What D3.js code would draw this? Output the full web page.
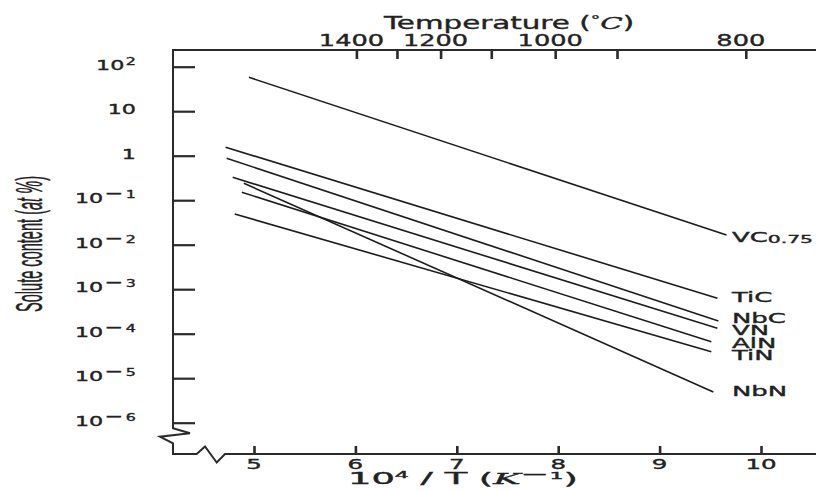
<!DOCTYPE html>
<html><head><meta charset="utf-8">
<script src="https://cdn.jsdelivr.net/npm/d3@7"></script>
<style>body{margin:0;background:#fff} svg{display:block} text{stroke:#222;stroke-width:0.35px}</style>
</head><body>
<svg id="chart" width="816" height="491"></svg>
<script>
// ---- data ----
const compounds = ["VC0.75", "TiC", "NbC", "VN", "AlN", "TiN", "NbN"];
const xStart = [4.95, 4.72, 4.73, 4.79, 4.88, 4.81, 4.90];      // 10^4/T (K^-1)
const yStart = [57.8, 1.55, 0.875, 0.327, 0.151, 0.049, 0.24];   // at %
const xEnd   = [9.66, 9.57, 9.58, 9.57, 9.51, 9.51, 9.53];
const yEnd   = [0.0165, 6.25e-4, 1.93e-4, 1.32e-4, 6.6e-5, 3.94e-5, 4.9e-6];
const xTicks = [5, 6, 7, 8, 9, 10];
const yTicks = [1e2, 1e1, 1, 1e-1, 1e-2, 1e-3, 1e-4, 1e-5, 1e-6];
const yTickBase = ["10", "10", "1", "10", "10", "10", "10", "10", "10"];
const yTickExp  = ["2", "", "", "−1", "−2", "−3", "−4", "−5", "−6"];
const tempLabels = ["1400", "", "1200", "", "1000", "", "800"];
const tempTickAt = [6.01, 6.41, 6.84, 7.34, 7.97, 8.58, 9.85]; // position on 10^4/T axis

// ---- layout ----
const svg = d3.select("#chart");
const x = d3.scaleLinear().domain([5, 10]).range([254, 761]);
const y = d3.scaleLog().domain([1e-6, 1e2]).range([422.7, 66.7]);
const frameL = 173, frameT = 50, frameB = 454, frameR = 816;
const axisColor = "#2b2b2b";
const labelDy = [6.5, 3.3, 2.3, 6.7, 6.6, 8.3, 4.5];

function stretch(sel, sx) {
  sel.attr("transform", function () {
    const ax = +this.getAttribute("x") || 0, ay = +this.getAttribute("y") || 0;
    return `translate(${ax},${ay}) scale(${sx},1) translate(${-ax},${-ay})`;
  });
}
function fitWidth(sel, w) {
  sel.each(function () {
    const bb = this.getBBox();
    stretch(d3.select(this), w / bb.width);
  });
}

// axis frame with break marks
svg.append("path")
  .attr("d", `M${frameR},${frameT}H${frameL}V428.3L190,433.3L160,436.7L${frameL},443.3V${frameB}` +
             `H196.7L205,446.5L216.7,462.5L225,${frameB}H${frameR}`)
  .attr("fill", "none").attr("stroke", axisColor).attr("stroke-width", 2)
  .attr("stroke-linejoin", "miter");

// left ticks (inward)
const gy = svg.append("g").attr("transform", `translate(${frameL},0)`)
  .call(d3.axisLeft(y).tickValues(yTicks).tickSize(-22).tickFormat(""));
gy.select(".domain").remove();
gy.selectAll(".tick line").attr("stroke", axisColor).attr("stroke-width", 2.2);

// bottom ticks (inward)
const gx = svg.append("g").attr("transform", `translate(0,${frameB})`)
  .call(d3.axisBottom(x).tickValues(xTicks).tickSize(-8).tickFormat(""));
gx.select(".domain").remove();
gx.selectAll(".tick line").attr("stroke", axisColor).attr("stroke-width", 2.6);

// top ticks (temperature)
const gt = svg.append("g").attr("transform", `translate(0,${frameT})`)
  .call(d3.axisTop(x).tickValues(tempTickAt).tickSize(-9).tickFormat(""));
gt.select(".domain").remove();
gt.selectAll(".tick line").attr("stroke", axisColor).attr("stroke-width", 2.6);

const font = "DejaVu Sans, sans-serif";

// y tick labels
const ylab = svg.append("g").attr("font-family", font).attr("fill", "#222");
yTicks.forEach((v, i) => {
  const t = ylab.append("text").attr("x", 136).attr("y", y(v) + 3)
    .attr("text-anchor", "end").attr("font-size", 14);
  t.append("tspan").text(yTickBase[i]);
  const e = yTickExp[i];
  if (e) {
    if (e[0] === "−") {
      t.append("tspan").attr("font-size", 14).attr("dy", -5).attr("dx", 1).text("−");
      t.append("tspan").attr("font-size", 10).attr("dx", 1.5).text(e.slice(1));
    } else {
      t.append("tspan").attr("font-size", 10).attr("dy", -5).attr("dx", 1).text(e);
    }
  }
  stretch(t, 1.59);
});

// x tick labels
const xlab = svg.append("g").attr("font-family", font).attr("fill", "#222");
xTicks.forEach(v => {
  const t = xlab.append("text").attr("x", x(v)).attr("y", 469)
    .attr("text-anchor", "middle").attr("font-size", 14).text(v);
  stretch(t, 1.75);
});

// top tick labels
const tlab = svg.append("g").attr("font-family", font).attr("fill", "#222");
tempTickAt.forEach((v, i) => {
  if (!tempLabels[i]) return;
  const t = tlab.append("text").attr("x", x(v) - 5).attr("y", 46.5)
    .attr("text-anchor", "middle").attr("font-size", 16).text(tempLabels[i]);
  stretch(t, 1.6);
});

// top title
const tt = svg.append("text").attr("x", 509).attr("y", 29.5).attr("text-anchor", "middle")
  .attr("font-family", font).attr("font-size", 17).attr("fill", "#222");
tt.append("tspan").text("Temperature (");
tt.append("tspan").attr("font-size", 11).attr("dy", -6).text("°");
tt.append("tspan").attr("dy", 6).attr("font-family", "DejaVu Serif, serif").attr("font-style", "italic").text("C");
tt.append("tspan").text(")");
fitWidth(tt, 252);

// bottom title
const bt = svg.append("text").attr("x", 348).attr("y", 484).attr("text-anchor", "start")
  .attr("font-family", font).attr("font-size", 15).attr("fill", "#222");
bt.append("tspan").text("10");
bt.append("tspan").attr("font-size", 9).attr("dy", -6).text("4");
bt.append("tspan").attr("dy", 6).text(" / T (");
bt.append("tspan").attr("font-family", "DejaVu Serif, serif").attr("font-style", "italic").text("K");
bt.append("tspan").attr("font-size", 14).attr("dy", -5).text("−");
bt.append("tspan").attr("font-size", 9).text("1");
bt.append("tspan").attr("dy", 5).text(")");
fitWidth(bt, 230);

// y title
const yt = svg.append("text").attr("x", 0).attr("y", 0).attr("text-anchor", "middle")
  .attr("transform", "translate(42,244) scale(2.3,1) rotate(-90)")
  .attr("font-family", "Liberation Sans Narrow, Liberation Sans, sans-serif")
  .attr("font-size", 16).attr("fill", "#222").style("stroke-width", "0.2px")
  .attr("textLength", 136).attr("lengthAdjust", "spacingAndGlyphs");
yt.append("tspan").text("Solute content (");
yt.append("tspan").attr("font-style", "italic").text("at %");
yt.append("tspan").text(")");

// lines
const rows = compounds.map((c, i) => ({ name: c, x0: xStart[i], y0: yStart[i], x1: xEnd[i], y1: yEnd[i], dy: labelDy[i] }));
svg.append("g").selectAll("line").data(rows).join("line")
  .attr("x1", d => x(d.x0)).attr("y1", d => y(d.y0))
  .attr("x2", d => x(d.x1)).attr("y2", d => y(d.y1))
  .attr("stroke", "#1c1c1c").attr("stroke-width", 1.6);

// line labels
const llab = svg.append("g").attr("font-family", font).attr("fill", "#222");
rows.forEach(d => {
  const t = llab.append("text").attr("x", 732).attr("y", y(d.y1) + d.dy).attr("font-size", 14);
  if (d.name === "VC0.75") {
    t.append("tspan").text("VC");
    t.append("tspan").attr("font-size", 11).attr("dy", 1).text("0.75");
  } else t.text(d.name);
  stretch(t, 1.85);
});
</script>
</body></html>
